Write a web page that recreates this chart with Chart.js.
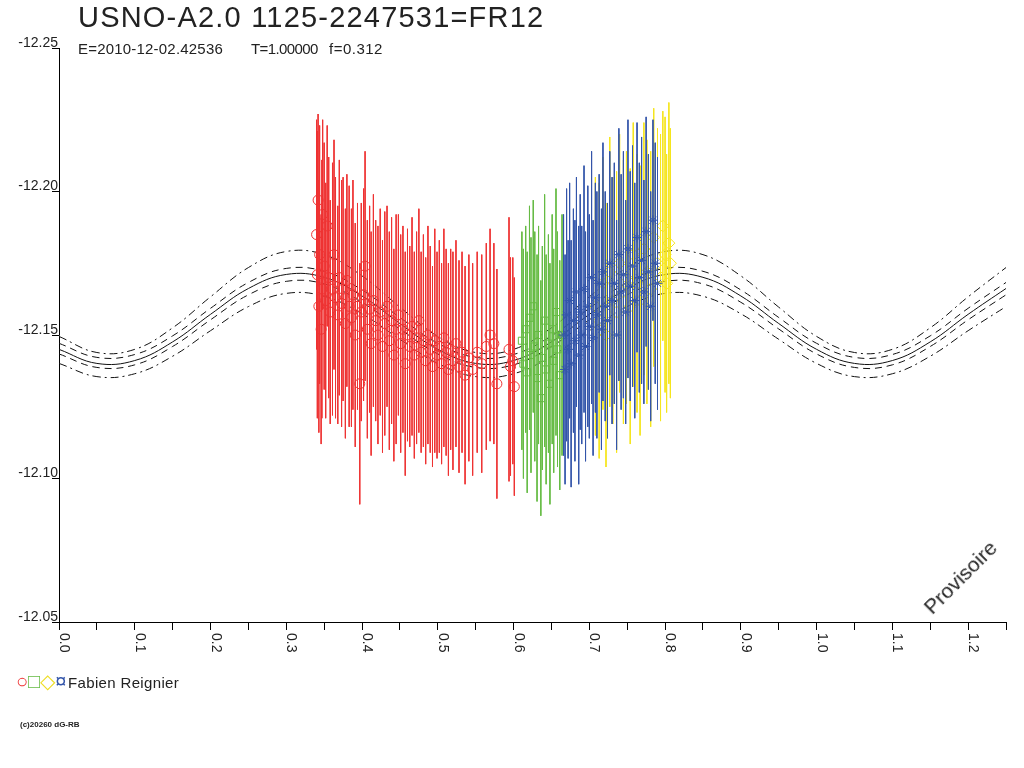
<!DOCTYPE html>
<html>
<head>
<meta charset="utf-8">
<title>USNO-A2.0 1125-2247531=FR12</title>
<script src="https://cdn.jsdelivr.net/npm/chart.js@4.4.1/dist/chart.umd.min.js"></script>
<style>
  body { margin: 0; background: #fff; font-family: "Liberation Sans", Arial, sans-serif; color: #222; }
  #wrap { position: relative; width: 1024px; height: 768px; overflow: hidden; }
  canvas { position: absolute; left: 0; top: 0; }
  .txt { position: absolute; white-space: pre; line-height: 1; }
</style>
</head>
<body>
<div id="wrap">
  <canvas id="chart" width="1024" height="768"></canvas>
  <div class="txt" style="left:78px;top:3px;font-size:29px;letter-spacing:1.2px;">USNO-A2.0 1125-2247531=FR12</div>
  <div class="txt" style="left:78px;top:41px;font-size:15px;letter-spacing:0.2px;">E=2010-12-02.42536</div>
  <div class="txt" style="left:251px;top:41px;font-size:15px;letter-spacing:-0.6px;">T=1.00000</div>
  <div class="txt" style="left:329px;top:41px;font-size:15px;letter-spacing:0.5px;">f=0.312</div>
  <div class="txt" style="left:16px;top:671px;font-size:20px;"><span style="color:#ee3333">○</span><span style="color:#66bb44">□</span><span style="color:#eedd22">◇</span><span style="color:#3355aa">¤</span></div>
  <div class="txt" style="left:68px;top:675px;font-size:15px;letter-spacing:0.35px;">Fabien Reignier</div>
  <div class="txt" style="left:20px;top:721px;font-size:8px;font-weight:bold;">(c)20260 dG-RB</div>
  <div class="txt" style="left:960px;top:577px;font-size:21px;transform:translate(-50%,-50%) rotate(-45deg);">Provisoire</div>
</div>
<script>
// axis ticks
const xTickValues = [0, 0.05, 0.1, 0.15, 0.2, 0.25, 0.3, 0.35, 0.4, 0.45, 0.5, 0.55, 0.6, 0.65,
  0.7, 0.75, 0.8, 0.85, 0.9, 0.95, 1.0, 1.05, 1.1, 1.15, 1.2, 1.25];
const xTickLabels = ['0.0', '', '0.1', '', '0.2', '', '0.3', '', '0.4', '', '0.5', '', '0.6', '',
  '0.7', '', '0.8', '', '0.9', '', '1.0', '', '1.1', '', '1.2', ''];
const yTickValues = [-12.25, -12.20, -12.15, -12.10, -12.05];
const yTickLabels = ['-12.25', '-12.20', '-12.15', '-12.10', '-12.05'];

const curvePhase = [0, 0.05, 0.1, 0.15, 0.2, 0.25, 0.3, 0.35, 0.4, 0.45, 0.5, 0.55, 0.6, 0.65,
  0.7, 0.75, 0.8, 0.85, 0.9, 0.95, 1.0, 1.05, 1.1, 1.15, 1.2, 1.25];
const curveMid = [-12.1450, -12.1401, -12.1411, -12.1476, -12.1572, -12.1662, -12.1711, -12.1701, -12.1636, -12.1540,
  -12.1450, -12.1401, -12.1411, -12.1476, -12.1572, -12.1662, -12.1711, -12.1701, -12.1636, -12.1540,
  -12.1450, -12.1401, -12.1411, -12.1476, -12.1572, -12.1662];
const curveDashUp = [-12.1471, -12.1422, -12.1432, -12.1497, -12.1593, -12.1683, -12.1732, -12.1722, -12.1657, -12.1561,
  -12.1471, -12.1422, -12.1432, -12.1497, -12.1593, -12.1683, -12.1732, -12.1722, -12.1657, -12.1561,
  -12.1471, -12.1422, -12.1432, -12.1497, -12.1593, -12.1683];
const curveDashLow = [-12.1434, -12.1387, -12.1396, -12.1460, -12.1553, -12.1640, -12.1687, -12.1678, -12.1614, -12.1521,
  -12.1434, -12.1387, -12.1396, -12.1460, -12.1553, -12.1640, -12.1687, -12.1678, -12.1614, -12.1521,
  -12.1434, -12.1387, -12.1396, -12.1460, -12.1553, -12.1640];
const curveDotUp = [-12.1495, -12.1439, -12.1450, -12.1525, -12.1633, -12.1735, -12.1791, -12.1780, -12.1706, -12.1597,
  -12.1495, -12.1439, -12.1450, -12.1525, -12.1633, -12.1735, -12.1791, -12.1780, -12.1706, -12.1597,
  -12.1495, -12.1439, -12.1450, -12.1525, -12.1633, -12.1735];
const curveDotLow = [-12.1401, -12.1355, -12.1365, -12.1426, -12.1515, -12.1599, -12.1645, -12.1635, -12.1574, -12.1485,
  -12.1401, -12.1355, -12.1365, -12.1426, -12.1515, -12.1599, -12.1645, -12.1635, -12.1574, -12.1485,
  -12.1401, -12.1355, -12.1365, -12.1426, -12.1515, -12.1599];

// observations: phase, magnitude, error
const redPhase = [0.340, 0.341, 0.342, 0.343, 0.344, 0.346, 0.347, 0.348, 0.350, 0.352,
  0.354, 0.356, 0.358, 0.361, 0.363, 0.365, 0.368, 0.370, 0.373, 0.375,
  0.378, 0.380, 0.383, 0.386, 0.388, 0.391, 0.394, 0.397, 0.399, 0.402,
  0.404, 0.407, 0.410, 0.412, 0.415, 0.418, 0.421, 0.424, 0.427, 0.430,
  0.433, 0.436, 0.439, 0.442, 0.445, 0.448, 0.451, 0.454, 0.457, 0.460,
  0.463, 0.466, 0.469, 0.472, 0.475, 0.478, 0.481, 0.484, 0.487, 0.490,
  0.493, 0.496, 0.499, 0.502, 0.505, 0.508, 0.511, 0.514, 0.517, 0.520,
  0.524, 0.528, 0.532, 0.536, 0.541, 0.546, 0.552, 0.558, 0.564, 0.569, 0.574, 0.578,
  0.594, 0.596, 0.599, 0.601];
const redMag = [-12.185, -12.171, -12.197, -12.160, -12.178, -12.152, -12.166, -12.192, -12.174, -12.162,
  -12.188, -12.170, -12.158, -12.166, -12.178, -12.163, -12.157, -12.170, -12.161, -12.166,
  -12.154, -12.169, -12.160, -12.156, -12.164, -12.150, -12.160, -12.133, -12.158, -12.164,
  -12.174, -12.152, -12.159, -12.147, -12.162, -12.155, -12.150, -12.158, -12.146, -12.154,
  -12.160, -12.148, -12.155, -12.143, -12.152, -12.157, -12.147, -12.152, -12.140, -12.150,
  -12.146, -12.153, -12.143, -12.149, -12.155, -12.144, -12.148, -12.141, -12.150, -12.145,
  -12.139, -12.148, -12.143, -12.146, -12.140, -12.149, -12.144, -12.138, -12.145, -12.141,
  -12.147, -12.139, -12.144, -12.136, -12.142, -12.138, -12.144, -12.140, -12.146, -12.150, -12.147, -12.133,
  -12.145, -12.139, -12.141, -12.132];
const redErr = [0.040, 0.050, 0.030, 0.044, 0.045, 0.040, 0.045, 0.033, 0.043, 0.041,
  0.035, 0.042, 0.039, 0.044, 0.040, 0.042, 0.038, 0.041, 0.043, 0.039,
  0.040, 0.037, 0.042, 0.038, 0.040, 0.039, 0.036, 0.042, 0.038, 0.037,
  0.040, 0.038, 0.036, 0.039, 0.037, 0.035, 0.038, 0.036, 0.037, 0.039,
  0.035, 0.038, 0.036, 0.037, 0.040, 0.035, 0.038, 0.036, 0.039, 0.037,
  0.035, 0.038, 0.036, 0.037, 0.039, 0.035, 0.037, 0.036, 0.038, 0.036,
  0.035, 0.039, 0.036, 0.037, 0.035, 0.038, 0.036, 0.037, 0.035, 0.038,
  0.036, 0.037, 0.035, 0.038, 0.036, 0.037, 0.035, 0.038, 0.036, 0.037, 0.035, 0.040,
  0.046, 0.038, 0.036, 0.038];

const greenPhase = [0.611, 0.613, 0.616, 0.618, 0.621, 0.623, 0.626, 0.628, 0.631, 0.633, 0.636,
  0.638, 0.641, 0.643, 0.646, 0.648, 0.651, 0.653, 0.656, 0.658, 0.661, 0.664];
const greenMag = [-12.148, -12.140, -12.152, -12.137, -12.156, -12.143, -12.160, -12.146, -12.135, -12.150, -12.128,
  -12.142, -12.155, -12.138, -12.147, -12.133, -12.152, -12.141, -12.158, -12.145, -12.136, -12.150];
const greenErr = [0.038, 0.040, 0.036, 0.042, 0.039, 0.041, 0.037, 0.040, 0.043, 0.038, 0.041,
  0.039, 0.044, 0.040, 0.038, 0.042, 0.040, 0.039, 0.043, 0.041, 0.040, 0.042];

const bluePhase = [0.666, 0.668, 0.670, 0.672, 0.674, 0.676, 0.679, 0.681, 0.683, 0.686,
  0.688, 0.690, 0.693, 0.695, 0.698, 0.700, 0.703, 0.705, 0.708, 0.710,
  0.713, 0.716, 0.718, 0.721, 0.724, 0.727, 0.730, 0.733, 0.736, 0.739,
  0.742, 0.745, 0.748, 0.751, 0.754, 0.757, 0.760, 0.763, 0.766, 0.769,
  0.772, 0.775, 0.778, 0.781, 0.784, 0.787, 0.790];
const blueMag = [-12.150, -12.138, -12.157, -12.145, -12.162, -12.140, -12.155, -12.148, -12.165, -12.143,
  -12.158, -12.150, -12.166, -12.146, -12.160, -12.153, -12.170, -12.149, -12.163, -12.157,
  -12.168, -12.152, -12.172, -12.160, -12.155, -12.175, -12.162, -12.168, -12.150, -12.178,
  -12.165, -12.171, -12.158, -12.180, -12.167, -12.174, -12.162, -12.184, -12.170, -12.176,
  -12.165, -12.186, -12.172, -12.160, -12.190, -12.175, -12.168];
const blueErr = [0.042, 0.040, 0.044, 0.038, 0.041, 0.043, 0.039, 0.042, 0.040, 0.045,
  0.041, 0.038, 0.043, 0.040, 0.042, 0.039, 0.044, 0.041, 0.040, 0.043,
  0.038, 0.042, 0.045, 0.040, 0.041, 0.039, 0.043, 0.042, 0.040, 0.044,
  0.041, 0.043, 0.039, 0.045, 0.040, 0.042, 0.041, 0.040, 0.040, 0.043,
  0.039, 0.040, 0.041, 0.040, 0.035, 0.042, 0.044];

const yellowPhase = [0.708, 0.713, 0.718, 0.722, 0.727, 0.731, 0.736, 0.740, 0.745, 0.749,
  0.754, 0.758, 0.763, 0.767, 0.772, 0.776, 0.781, 0.785, 0.790, 0.794,
  0.797, 0.800, 0.802, 0.805, 0.807];
const yellowMag = [-12.160, -12.155, -12.168, -12.150, -12.172, -12.162, -12.158, -12.175, -12.165, -12.170,
  -12.160, -12.178, -12.168, -12.162, -12.180, -12.172, -12.166, -12.184, -12.175, -12.170,
  -12.188, -12.178, -12.168, -12.182, -12.175];
const yellowErr = [0.045, 0.048, 0.044, 0.046, 0.047, 0.043, 0.049, 0.045, 0.046, 0.044,
  0.048, 0.046, 0.045, 0.047, 0.044, 0.046, 0.048, 0.045, 0.047, 0.050,
  0.040, 0.048, 0.045, 0.049, 0.047];

const RED = '#ee3333', GREEN = '#66bb44', BLUE = '#3355aa', YELLOW = '#f5e51e';

function curve(values, dash, order) {
  return {
    data: curvePhase.map((p, i) => ({x: p, y: values[i]})),
    borderColor: '#111', borderWidth: 1, borderDash: dash,
    pointRadius: 0, tension: 0.4, showLine: true, order: order
  };
}

// vertical error bars as broken line segments
function errorBars(phase, mag, err, color, order) {
  const pts = [];
  phase.forEach((p, i) => {
    pts.push({x: p, y: mag[i] - err[i]}, {x: p, y: mag[i] + err[i]}, {x: p, y: null});
  });
  return {
    data: pts, borderColor: color, borderWidth: 1, pointRadius: 0,
    showLine: true, spanGaps: false, tension: 0, order: order
  };
}

function markers(phase, mag, color, style, radius, order) {
  return {
    data: phase.map((p, i) => ({x: p, y: mag[i]})),
    showLine: false, pointStyle: style, pointRadius: radius,
    pointBorderColor: color, pointBackgroundColor: 'rgba(0,0,0,0)',
    pointBorderWidth: 1, order: order
  };
}

const xLabels = {
  id: 'xLabels',
  afterDraw(chart) {
    const sc = chart.scales.x;
    const ctx = chart.ctx;
    ctx.save();
    ctx.fillStyle = '#222';
    ctx.font = '14px "Liberation Sans", Arial, sans-serif';
    ctx.textAlign = 'left';
    ctx.textBaseline = 'alphabetic';
    xTickValues.forEach((v, i) => {
      if (!xTickLabels[i]) return;
      ctx.save();
      ctx.translate(sc.getPixelForValue(v) + 1, sc.top + 11);
      ctx.rotate(Math.PI / 2);
      ctx.fillText(xTickLabels[i], 0, 0);
      ctx.restore();
    });
    ctx.restore();
  }
};

new Chart(document.getElementById('chart'), {
  type: 'line',
  data: {
    datasets: [
      curve(curveDotUp, [8, 4, 2, 4], 30),
      curve(curveDashUp, [7, 5], 30),
      curve(curveMid, [], 30),
      curve(curveDashLow, [7, 5], 30),
      curve(curveDotLow, [8, 4, 2, 4], 30),
      errorBars(redPhase, redMag, redErr, RED, 10),
      markers(redPhase, redMag, RED, 'circle', 5, 9),
      errorBars(greenPhase, greenMag, greenErr, GREEN, 8),
      markers(greenPhase, greenMag, GREEN, 'rect', 5, 7),
      errorBars(yellowPhase, yellowMag, yellowErr, YELLOW, 6),
      markers(yellowPhase, yellowMag, YELLOW, 'rectRot', 6, 5),
      errorBars(bluePhase, blueMag, blueErr, BLUE, 4),
      markers(bluePhase, blueMag, BLUE, 'star', 5, 3)
    ]
  },
  options: {
    responsive: false,
    animation: false,
    devicePixelRatio: 1,
    layout: {padding: {top: 48, right: 18, left: 0, bottom: 0}},
    plugins: {legend: {display: false}, tooltip: {enabled: false}},
    scales: {
      x: {
        type: 'linear', min: 0, max: 1.25,
        afterBuildTicks: s => { s.ticks = xTickValues.map(v => ({value: v})); },
        afterFit: s => { s.height = 146; },
        ticks: {display: false},
        grid: {drawOnChartArea: false, drawTicks: true, tickLength: 8, color: '#000'},
        border: {display: true, color: '#000', width: 1}
      },
      y: {
        type: 'linear', min: -12.25, max: -12.05, reverse: true,
        afterBuildTicks: s => { s.ticks = yTickValues.map(v => ({value: v})); },
        afterFit: s => { s.width = 59; },
        ticks: {
          callback: (v, i) => yTickLabels[i],
          color: '#222', padding: -6, labelOffset: -5, autoSkip: false,
          font: {family: '"Liberation Sans", Arial, sans-serif', size: 14}
        },
        grid: {drawOnChartArea: false, drawTicks: true, tickLength: 7, color: '#000'},
        border: {display: true, color: '#000', width: 1}
      }
    }
  },
  plugins: [xLabels]
});
</script>
</body>
</html>
